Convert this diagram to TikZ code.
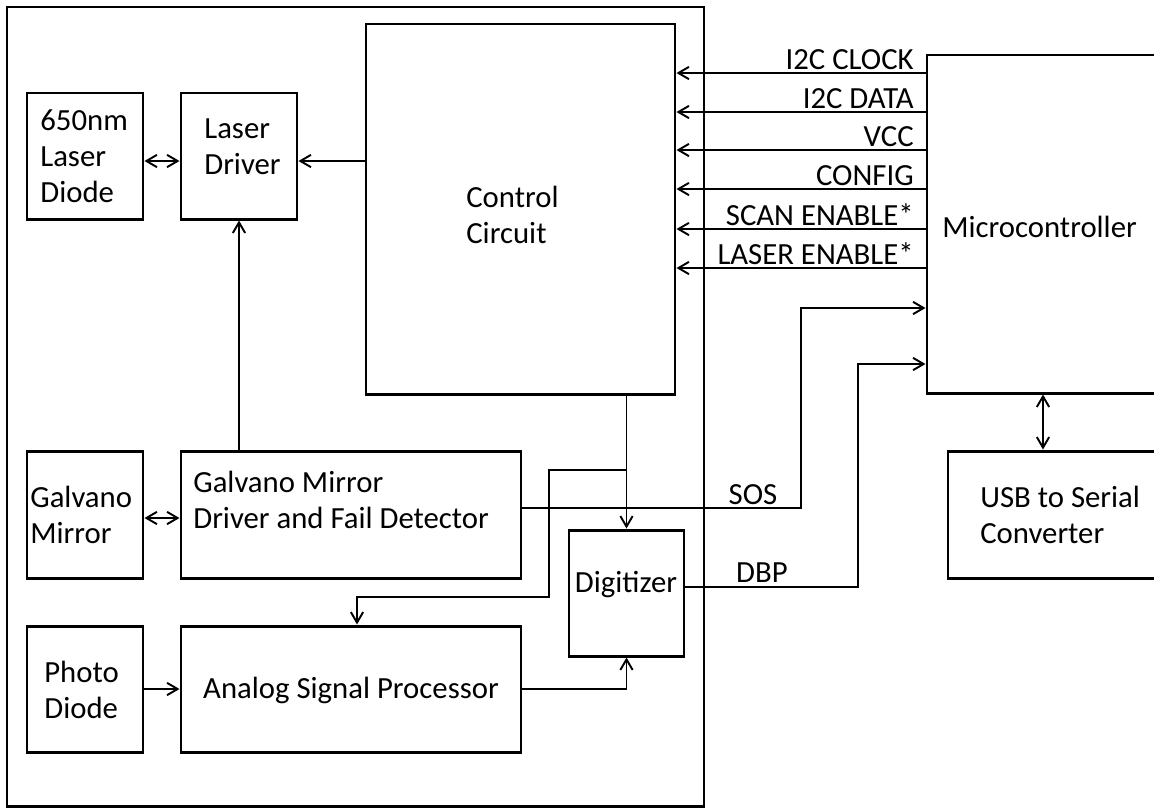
\documentclass[tikz,border=0pt]{standalone}
\usepackage{fontspec}
\setmainfont{Carlito}
\usetikzlibrary{arrows.meta, fit}

\begin{document}
\begin{tikzpicture}[
  x=0.02cm, y=-0.02cm,
  box/.style={draw, line width=1.7pt, inner sep=0pt},
  txt/.style={inner sep=0pt, align=left, font=\fontsize{17.5}{20.5}\selectfont},
  arr/.style={-{Straight Barb[length=6pt,width=7pt]}, line width=1.1pt},
  darr/.style={{Straight Barb[length=6pt,width=7pt]}-{Straight Barb[length=6pt,width=7pt]}, line width=1.1pt}
]
  \useasboundingbox (0,0) rectangle (1154,809);

  % scanner board and its blocks
  \node[box, fit={(7,7) (704,806)}] (board) {};
  \node[box, fit={(27,93) (143,219)}] (diode) {};
  \node[box, fit={(181,93) (297,219)}] (ldrv) {};
  \node[box, fit={(366,24) (675,394)}] (ctrl) {};
  \node[box, fit={(27,451) (143,578)}] (galvo) {};
  \node[box, fit={(181,451) (521,578)}] (gdrv) {};
  \node[box, fit={(569,530) (684,656)}] (dig) {};
  \node[box, fit={(27,626) (143,752)}] (photo) {};
  \node[box, fit={(181,626) (521,752)}] (asp) {};
  % host side
  \node[box, fit={(927,55) (1180,393)}] (mcu) {};
  \node[box, fit={(948,451) (1180,578)}] (usb) {};

  \node[txt, anchor=west] (diode-t) at (40,156) {650nm\\Laser\\Diode};
  \node[txt, anchor=west] (ldrv-t) at (204,147) {Laser\\Driver};
  \node[txt, anchor=west] (ctrl-t) at (466,215) {Control\\Circuit};
  \node[txt, anchor=west] (galvo-t) at (30,515) {Galvano\\Mirror};
  \node[txt, anchor=west] (gdrv-t) at (193,500) {Galvano Mirror\\Driver and Fail Detector};
  \node[txt] (dig-t) at (626,585) {Digitizer};
  \node[txt, anchor=west] (photo-t) at (44,690) {Photo\\Diode};
  \node[txt] (asp-t) at (351,690) {Analog Signal Processor};
  \node[txt, anchor=west] (mcu-t) at (942,227) {Microcontroller};
  \node[txt, anchor=west] (usb-t) at (980,515) {USB to Serial\\Converter};

  % control lines from the microcontroller
  \foreach \y/\sig in {73/I2C CLOCK, 112/I2C DATA, 150/VCC, 189/CONFIG,
                       229/SCAN ENABLE*, 268/LASER ENABLE*}{
    \node[txt, anchor=base east] (sig\y) at (914,\y-4) {\sig};
    \draw[arr] (mcu.west |- 0,\y) -- (ctrl.east |- 0,\y);
  }

  \draw[darr] (diode.east |- 0,161) -- (ldrv.west |- 0,161);
  \draw[arr] (ctrl.west |- 0,161) -- (ldrv.east |- 0,161);
  \draw[arr] (ldrv.south |- gdrv.north) -- (ldrv.south);
  \draw[darr] (galvo.east |- 0,518) -- (gdrv.west |- 0,518);
  \draw[arr] (photo.east |- 0,689) -- (asp.west |- 0,689);
  \draw[arr] (asp.east |- 0,689) -| (dig.south);
  \draw[arr] (dig.north |- ctrl.south) -- (dig.north);
  \coordinate (tap) at (dig.north |- 0,470);
  \draw[arr] (tap) -- (549,470) -- (549,597) -- (357,597) -- (asp.north -| 357,0);

  % SOS and DBP back to the host
  \draw[arr] (gdrv.east |- 0,508) -- (801,508) -- (801,308) -- (mcu.west |- 0,308);
  \node[txt, anchor=base] (sos) at (753,504) {SOS};
  \draw[arr] (dig.east |- 0,587) -- (858,587) -- (858,364) -- (mcu.west |- 0,364);
  \node[txt, anchor=base] (dbp) at (762,582) {DBP};
  \draw[darr] (usb.north -| 1043,0) -- (mcu.south -| 1043,0);
\end{tikzpicture}
\end{document}
